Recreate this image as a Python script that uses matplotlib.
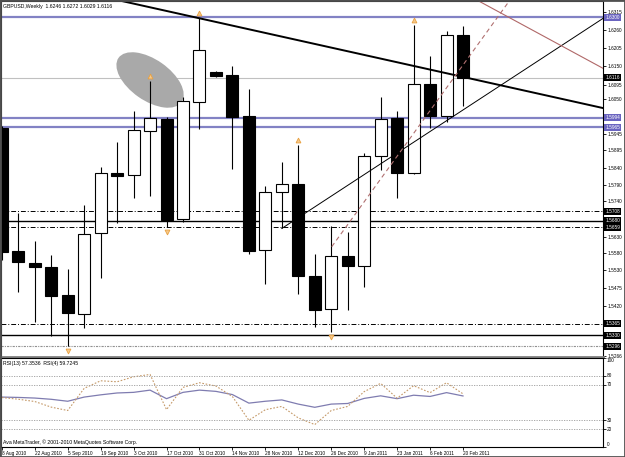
import numpy as np
import matplotlib
matplotlib.use("Agg")
import matplotlib.pyplot as plt
from matplotlib import font_manager, transforms
from matplotlib.patches import Ellipse, Rectangle


# pick a narrow font if there is one
names = {f.name for f in font_manager.fontManager.ttflist}
FONT = 'Liberation Sans Narrow' if 'Liberation Sans Narrow' in names else 'Liberation Sans'
plt.rcParams['font.family'] = [FONT, 'DejaVu Sans']

# Weekly GBPUSD candles, 8 Aug 2010 .. 20 Feb 2011
opens = [1.5962, 1.5586, 1.5552, 1.5538, 1.5453, 1.5395, 1.5641, 1.5826, 1.5819, 1.5953,
         1.5990, 1.5684, 1.6041, 1.6132, 1.6124, 1.5999, 1.5590, 1.5766, 1.5792, 1.5512,
         1.5409, 1.5572, 1.5541, 1.5878, 1.5992, 1.5824, 1.6096, 1.6000, 1.6246]
highs = [1.5968, 1.5702, 1.5618, 1.5575, 1.5532, 1.5727, 1.5844, 1.5921, 1.6015, 1.6106,
         1.5995, 1.6058, 1.6297, 1.6136, 1.6151, 1.6080, 1.5785, 1.5860, 1.5911, 1.5578,
         1.5664, 1.5646, 1.5885, 1.6056, 1.6014, 1.6277, 1.6182, 1.6258, 1.6272]
lows = [1.5560, 1.5463, 1.5372, 1.5329, 1.5296, 1.5351, 1.5504, 1.5672, 1.5748, 1.5755,
        1.5661, 1.5677, 1.5959, 1.6119, 1.5836, 1.5578, 1.5486, 1.5656, 1.5455, 1.5356,
        1.5341, 1.5407, 1.5477, 1.5834, 1.5749, 1.5822, 1.5963, 1.5980, 1.6029]
closes = [1.5585, 1.5553, 1.5538, 1.5451, 1.5397, 1.5638, 1.5825, 1.5817, 1.5955, 1.5993,
          1.5682, 1.6044, 1.6200, 1.6122, 1.5997, 1.5587, 1.5766, 1.5791, 1.5512, 1.5407,
          1.5572, 1.5541, 1.5877, 1.5990, 1.5826, 1.6096, 1.6000, 1.6246, 1.6116]

date_labels = ['8 Aug 2010', '22 Aug 2010', '5 Sep 2010', '19 Sep 2010', '3 Oct 2010',
               '17 Oct 2010', '31 Oct 2010', '14 Nov 2010', '28 Nov 2010', '12 Dec 2010',
               '26 Dec 2010', '9 Jan 2011', '23 Jan 2011', '6 Feb 2011', '20 Feb 2011']
date_bars = [0, 2, 4, 6, 8, 10, 12, 14, 16, 18, 20, 22, 24, 26, 28]

rsi13 = [56.1, 55.7, 55.0, 53.6, 51.4, 56.1, 58.6, 60.7, 61.4, 63.9,
         54.3, 61.4, 63.9, 62.5, 58.9, 49.3, 51.4, 52.9, 48.2, 44.6,
         48.2, 48.9, 54.6, 57.5, 54.3, 58.2, 56.8, 61.1, 57.3536]
rsi4 = [55.6, 53.7, 51.1, 44.8, 41.0, 65.9, 74.4, 73.3, 78.9, 81.5,
        42.0, 67.0, 72.2, 68.5, 56.7, 30.0, 41.9, 45.6, 32.7, 25.2,
        41.0, 45.6, 62.2, 71.5, 54.8, 68.9, 61.1, 72.2, 59.7245]

price_ticks = [1.6315, 1.6260, 1.6205, 1.6150, 1.6095, 1.6050, 1.5945, 1.5895, 1.5840,
               1.5790, 1.5740, 1.5630, 1.5580, 1.5530, 1.5475, 1.5420, 1.5266]
rsi_levels = [80, 70, 30, 20]
rsi_labels = [100, 80, 70, 30, 20, 0]

# drawn objects
purple_levels = [1.6300, 1.5994, 1.5965]
solid_levels = [1.5680, 1.5330]
dashdot_levels = [1.5708, 1.5659, 1.5365]
dotted_levels = [1.5296]
trend_thick = [(5, 1.63752), (37, 1.60176)]
trend_thin = [(17, 1.5656), (37, 1.6313)]
trend_dashed = [(20.03, 1.56003), (31, 1.6363)]
trend_brown = [(29.03, 1.63476), (36.5, 1.61444)]
fractal_up = [9, 12, 18, 25]
fractal_down = [4, 10, 20]
ellipse_center = (9.0, 1.61088)

W, H = 625, 457
fig = plt.figure(figsize=(W / 100, H / 100), dpi=100)


def rect(x0, y0, x1, y1):
    return [x0 / W, 1 - y1 / H, (x1 - x0) / W, (y1 - y0) / H]


ax = fig.add_axes(rect(1, 1, 603, 357))
ax2 = fig.add_axes(rect(1, 358, 603, 447))

FS = 3.7      # panel texts
FS_AX = 3.45  # scale labels
PURPLE = '#8282c4'
PURPLE_BOX = '#6a64c0'
ORANGE = '#e8a040'

# candles
bw = 0.73
for i in range(len(opens)):
    o, h, l, c = opens[i], highs[i], lows[i], closes[i]
    ax.vlines(i, l, h, color='black', lw=0.8, zorder=3)
    ax.add_patch(Rectangle((i - bw / 2, min(o, c)), bw, abs(c - o),
                           fc='white' if c >= o else 'black', ec='black', lw=0.8, zorder=4))

# levels
for p in purple_levels:
    ax.axhline(p, color=PURPLE, lw=1.6, zorder=2)
for p in solid_levels:
    ax.axhline(p, color='black', lw=1.0, zorder=2)
for p in dashdot_levels:
    ax.axhline(p, color='black', lw=0.7, dashes=(5, 2, 1, 2), zorder=2)
for p in dotted_levels:
    ax.axhline(p, color='#909090', lw=0.8, dashes=(2, 1, 1, 1), zorder=2)
ax.axhline(closes[-1], color='#c0c0c0', lw=0.8, zorder=1)

# trend lines
ax.plot(*zip(*trend_thick), color='black', lw=1.4, zorder=5)
ax.plot(*zip(*trend_thin), color='black', lw=0.7, zorder=5)
ax.plot(*zip(*trend_dashed), color='#b07070', lw=0.8, dashes=(4, 3), zorder=5)
ax.plot(*zip(*trend_brown), color='#b06868', lw=0.8, zorder=5)

# grey ellipse
ell_tr = fig.dpi_scale_trans + transforms.ScaledTranslation(*ellipse_center, ax.transData)
ax.add_patch(Ellipse((0, 0), 0.77, 0.41, angle=-35, fc='#a9a9a9', ec='none',
                     transform=ell_tr, zorder=2))

# fractal arrows
up_tr = transforms.offset_copy(ax.transData, fig, y=5, units='dots')
dn_tr = transforms.offset_copy(ax.transData, fig, y=-5, units='dots')
ax.plot(fractal_up, [highs[i] for i in fractal_up], ls='none', marker='^', ms=3.5,
        mfc='#f6c98a', mec=ORANGE, mew=0.6, transform=up_tr, zorder=6)
ax.plot(fractal_down, [lows[i] for i in fractal_down], ls='none', marker='v', ms=3.5,
        mfc='#f6c98a', mec=ORANGE, mew=0.6, transform=dn_tr, zorder=6)

ax.set_xlim(-0.05, 36.5)
ax.set_ylim(1.52639, 1.63497)
ax.set_xticks([])
ax.yaxis.tick_right()
ax.set_yticks(price_ticks)
ax.set_yticklabels([f'{v:.4f}' for v in price_ticks])
ax.tick_params(axis='y', length=2, width=0.6, pad=1.2, labelsize=FS_AX)
for s in ax.spines.values():
    s.set_linewidth(0.8)
ax.spines['bottom'].set_color('#808080')
ax.spines['bottom'].set_linewidth(2)

# boxed labels on the price scale
blend = transforms.blended_transform_factory(ax.transAxes, ax.transData)
box_labels = [(p, PURPLE_BOX) for p in purple_levels] + [(closes[-1], 'black')] + \
             [(p, 'black') for p in sorted(solid_levels + dashdot_levels + dotted_levels)]
for p, col in box_labels:
    ax.text(1.004, p, f'{p:.4f}', transform=blend, fontsize=FS_AX, color='white', va='center',
            ha='left', clip_on=False, zorder=10,
            bbox=dict(boxstyle='square,pad=0.2', fc=col, ec='none'))

ax.text(0.004, 0.992, f'GBPUSD,Weekly  {opens[-1]:.4f} {highs[-1]:.4f} {lows[-1]:.4f} {closes[-1]:.4f}',
        transform=ax.transAxes, fontsize=FS, va='top', ha='left')

# RSI panel
x = np.arange(len(rsi13))
ax2.plot(x, rsi13, color='#7f7cb0', lw=0.9)
ax2.plot(x, rsi4, color='#c59a6a', lw=0.8, dashes=(1.5, 1.5))
for lv in rsi_levels:
    ax2.axhline(lv, color='#9a9a9a', lw=0.6, dashes=(1.5, 1.5))
ax2.set_xlim(-0.05, 36.5)
ax2.set_ylim(0, 100)
ax2.yaxis.tick_right()
ax2.set_yticks(rsi_labels)
ax2.set_yticklabels([])
ax2.tick_params(axis='y', length=2, width=0.6)
for lv in rsi_labels:
    va = 'top' if lv == 100 else ('bottom' if lv == 0 else 'center')
    ax2.text(1.006, lv, str(lv), transform=transforms.blended_transform_factory(ax2.transAxes, ax2.transData),
             fontsize=FS_AX, va=va, ha='left', clip_on=False)
ax2.set_xticks(date_bars)
ax2.set_xticklabels(date_labels, ha='left')
ax2.tick_params(axis='x', length=2, width=0.6, pad=1, labelsize=FS_AX)
for s in ax2.spines.values():
    s.set_linewidth(0.8)
ax2.text(0.004, 0.97, f'RSI(13) {rsi13[-1]:.4f}  RSI(4) {rsi4[-1]:.4f}',
         transform=ax2.transAxes, fontsize=FS, va='top', ha='left')
ax2.text(0.004, 0.02, 'Ava MetaTrader, \u00a9 2001-2010 MetaQuotes Software Corp.',
         transform=ax2.transAxes, fontsize=FS, va='bottom', ha='left')

# window frame
fig.add_artist(Rectangle((0, 0), 1, 1, transform=fig.transFigure, fill=False,
                         ec='#505050', lw=2))

fig.savefig('out.png', dpi=100)
